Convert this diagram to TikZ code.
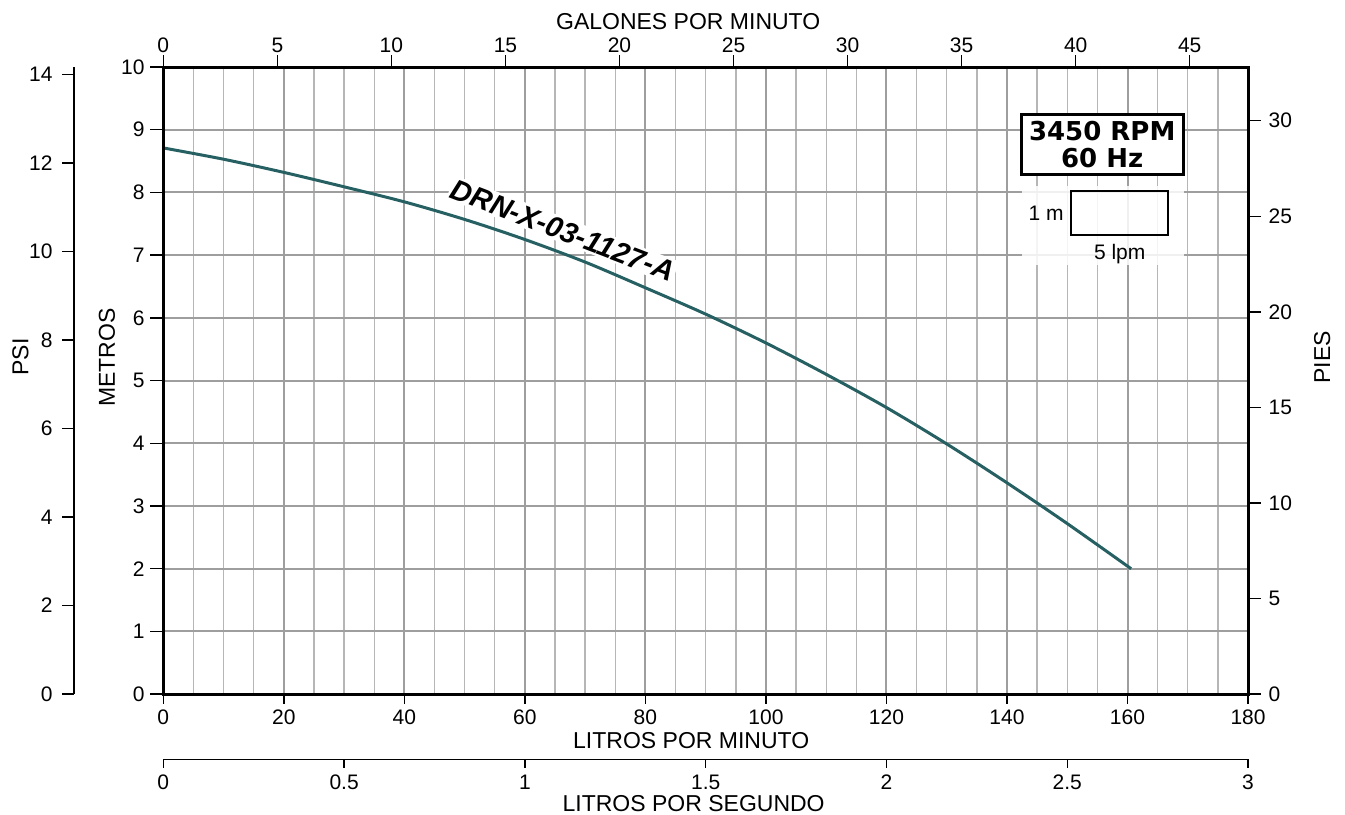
\documentclass[tikz,border=0pt]{standalone}
\usepackage{fontspec}
\setmainfont{Liberation Sans}
\newfontfamily\rpmfont{DejaVu Sans}
\usepackage{tikz}
\usetikzlibrary{positioning}
\definecolor{clrCurve}{RGB}{38,96,98}
\definecolor{clrGridA}{RGB}{158,158,158}
\definecolor{clrGridB}{RGB}{182,182,182}
\tikzstyle{grid_thin}=[draw=clrGridB, line width=0.7pt]
\tikzstyle{grid_thick}=[draw=clrGridA, line width=1pt]
\tikzstyle{frame}=[draw=black, line width=1.5pt]
\tikzstyle{tickline}=[draw=black, line width=0.7pt]
\tikzstyle{ticklabel}=[font=\fontsize{10.5}{12}\selectfont, inner sep=0pt]
\tikzstyle{axistitle}=[font=\fontsize{11.5}{13}\selectfont, inner sep=0pt]
\tikzstyle{curve}=[draw=clrCurve, line width=1.5pt, line join=round]

\begin{document}
\begin{tikzpicture}[x=3.0125pt, y=31.35pt]
	\useasboundingbox (-27.10,-1.914) rectangle (196.09,11.069);

	% grid
	\foreach \q in {5,10,...,175} \draw[grid_thin] (\q,0) -- (\q,10);
	\foreach \q in {20,40,...,160} \draw[grid_thick] (\q,0) -- (\q,10);
	\foreach \h in {1,...,9} \draw[grid_thick] (0,\h) -- (180,\h);

	% legend patch
	\fill[white, opacity=0.85] (142.5,6.84) rectangle (169.3,8.10);

	\node[fill=white, rotate=-21, inner sep=1pt, font=\fontsize{14.5}{16}\bfseries\itshape\selectfont] (model) at (66.3,7.40) {DRN-X-03-1127-A};

	\draw[curve] plot[smooth] coordinates {(0,8.71) (10,8.53) (20,8.32) (30,8.09) (40,7.85) (50,7.57) (60,7.25) (70,6.89) (80,6.48) (90,6.06) (100,5.60) (110,5.10) (120,4.57) (130,3.99) (140,3.37) (150,2.72) (160.6,2.0)};

	\draw[frame] (0,0) rectangle (180,10);

	% metros
	\foreach \h in {0,...,10} {
		\draw[tickline] (-2.16,\h) -- (0,\h);
		\node[ticklabel, anchor=east] (m\h) at (-3.04,\h) {\h};
	}

	% psi
	\draw[tickline] (-14.82,0) -- (-14.82,10);
	\foreach \p in {0,2,...,14} {
		\draw[tickline] (-16.81,\p*0.706) -- (-14.82,\p*0.706);
		\node[ticklabel, anchor=east] (psi\p) at (-18.31,\p*0.706) {\p};
	}

	% pies
	\foreach \f in {0,5,...,30} {
		\draw[tickline] (180,\f*0.3048) -- (182.16,\f*0.3048);
		\node[ticklabel, anchor=west] (ft\f) at (183.35,\f*0.3048) {\f};
	}

	% galones por minuto
	\foreach \g in {0,5,...,45} {
		\draw[tickline] (\g*3.785,10) -- (\g*3.785,10.19);
		\node[ticklabel] (gpm\g) at (\g*3.785,10.35) {\g};
	}

	% litros por minuto
	\foreach \l in {0,20,...,180} {
		\draw[tickline] (\l,0) -- (\l,-0.16);
		\node[ticklabel] (lpm\l) at (\l,-0.362) {\l};
	}

	% litros por segundo
	\draw[tickline] (0,-1.037) -- (180,-1.037);
	\foreach \s [count=\k] in {0,0.5,1,1.5,2,2.5,3} {
		\draw[tickline] (\s*60,-1.037) -- (\s*60,-1.18);
		\node[ticklabel] (lps\k) at (\s*60,-1.399) {\s};
	}

	\node[axistitle] (galones) at (87.1,10.72) {GALONES POR MINUTO};
	\node[axistitle] (litrosmin) at (87.6,-0.734) {LITROS POR MINUTO};
	\node[axistitle] (litrosseg) at (88.0,-1.738) {LITROS POR SEGUNDO};
	\node[axistitle, rotate=90] (psi) at (-23.70,5.375) {PSI};
	\node[axistitle, rotate=90] (metros) at (-9.34,5.37) {METROS};
	\node[axistitle, rotate=90] (pies) at (192.3,5.37) {PIES};

	\node[draw, line width=1.5pt, fill=white, minimum width=81pt, minimum height=30pt, inner sep=0pt, align=center, font=\rpmfont\fontsize{13}{13.5}\bfseries\selectfont] (rpm) at (155.8,8.772) {3450 RPM\\60 Hz};

	\node[draw, line width=1.2pt, minimum width=48.5pt, minimum height=22pt, inner sep=0pt] (scalebox) at (158.7,7.67) {};
	\node[ticklabel, left=3pt of scalebox] (onem) {1 m};
	\node[ticklabel, below=4pt of scalebox] (fivelpm) {5 lpm};

\end{tikzpicture}
\end{document}
